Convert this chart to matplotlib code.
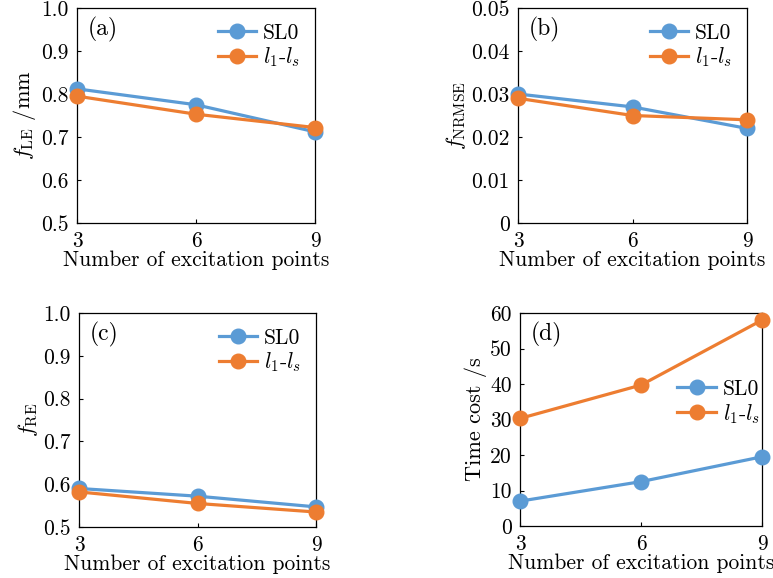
import matplotlib
matplotlib.use('Agg')
import matplotlib.pyplot as plt

plt.rcParams['font.family'] = ['cmr10', 'DejaVu Serif']
plt.rcParams['mathtext.fontset'] = 'cm'
plt.rcParams['axes.formatter.use_mathtext'] = True

points = [3, 6, 9]

fle_sl0 = [0.812, 0.775, 0.712]
fle_l1ls = [0.795, 0.753, 0.722]

nrmse_sl0 = [0.030, 0.027, 0.022]
nrmse_l1ls = [0.029, 0.025, 0.024]

fre_sl0 = [0.590, 0.572, 0.547]
fre_l1ls = [0.582, 0.555, 0.535]

time_sl0 = [7.0, 12.5, 19.5]
time_l1ls = [30.3, 39.7, 58.0]

blue = '#5b9bd5'
orange = '#ed7d31'

fig = plt.figure(figsize=(7.73, 5.78), dpi=100)
W, H = 773, 578

def make_ax(x0, y0, x1, y1):
    return fig.add_axes([x0 / W, 1 - y1 / H, (x1 - x0) / W, (y1 - y0) / H])

panels = [
    (make_ax(77, 8, 315, 223), fle_sl0, fle_l1ls, (0.5, 1.0), [0.5, 0.6, 0.7, 0.8, 0.9, 1.0],
     ['0.5', '0.6', '0.7', '0.8', '0.9', '1.0'], r'$f_{\rm LE}$ /mm', '(a)', None),
    (make_ax(518, 8, 747, 223), nrmse_sl0, nrmse_l1ls, (0, 0.05), [0, 0.01, 0.02, 0.03, 0.04, 0.05],
     ['0', '0.01', '0.02', '0.03', '0.04', '0.05'], r'$f_{\rm NRMSE}$', '(b)', None),
    (make_ax(79, 313, 316, 527), fre_sl0, fre_l1ls, (0.5, 1.0), [0.5, 0.6, 0.7, 0.8, 0.9, 1.0],
     ['0.5', '0.6', '0.7', '0.8', '0.9', '1.0'], r'$f_{\rm RE}$', '(c)', None),
    (make_ax(520, 313, 762, 526), time_sl0, time_l1ls, (0, 60), [0, 10, 20, 30, 40, 50, 60],
     ['0', '10', '20', '30', '40', '50', '60'], 'Time cost /s', '(d)', (0.57, 0.58)),
]

for ax, s1, s2, ylim, yt, ytl, ylabel, tag, anchor in panels:
    ax.plot(points, s1, '-o', color=blue, lw=2.3, ms=10.5, label='SL0', clip_on=False, zorder=3)
    ax.plot(points, s2, '-o', color=orange, lw=2.3, ms=10.5, label=r'$l_1$-$l_s$', clip_on=False, zorder=3)
    ax.set_xlim(3, 9)
    ax.set_ylim(*ylim)
    ax.set_xticks(points)
    ax.set_xticklabels(['3', '6', '9'])
    ax.set_yticks(yt)
    ax.set_yticklabels(ytl)
    ax.tick_params(direction='in', length=3, width=0.8, labelsize=15.5, pad=6)
    ax.set_xlabel('Number of excitation points', fontsize=15.5, labelpad=0)
    ax.set_ylabel(ylabel, fontsize=16, labelpad=2)
    ax.text(0.045, 0.96, tag, transform=ax.transAxes, fontsize=17, va='top')
    for sp in ax.spines.values():
        sp.set_linewidth(0.9)
    if anchor is None:
        ax.legend(loc='upper right', frameon=False, fontsize=15.5, handlelength=1.8, borderaxespad=0.3,
                  labelspacing=0.15, handletextpad=0.3)
    else:
        ax.legend(loc='center left', bbox_to_anchor=anchor, frameon=False, fontsize=15.5, handlelength=1.8,
                  labelspacing=0.15, handletextpad=0.3)

fig.savefig('out.png', dpi=100)
